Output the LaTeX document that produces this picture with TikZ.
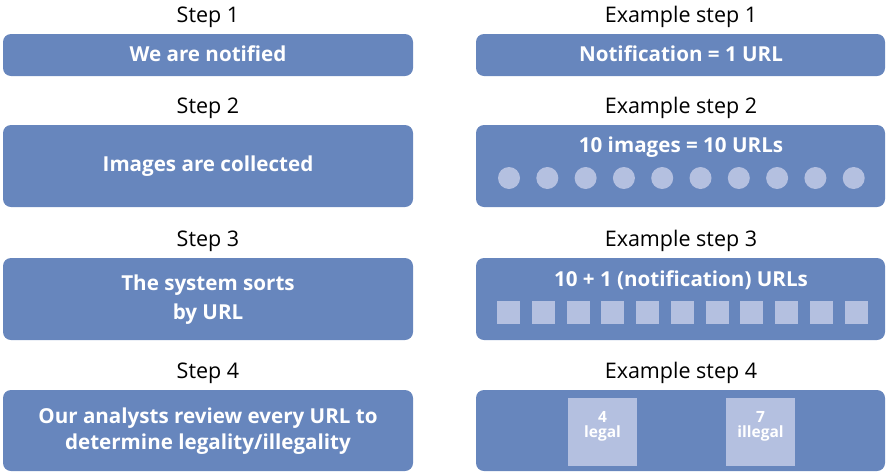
\documentclass[tikz,border=0pt]{standalone}
\usepackage{fontspec}
\setmainfont{Open Sans}
\definecolor{boxblue}{HTML}{6786BD}
\definecolor{lightblue}{HTML}{B4C0E0}
\tikzset{
  x=1pt,y=-1pt,
  heading/.style={font=\fontsize{21.5}{24}\selectfont, text=black, inner sep=0pt},
  stepbox/.style={fill=boxblue, rounded corners=8pt, draw=none},
  boxtext/.style={font=\bfseries\fontsize{20.6}{29}\selectfont, text=white, align=center, inner sep=0pt},
  dot/.style={circle, fill=lightblue, minimum size=22pt, inner sep=0pt},
  sq/.style={fill=lightblue, minimum size=23pt, inner sep=0pt},
  bigsq/.style={fill=lightblue, minimum width=69pt, minimum height=68pt, inner sep=0pt},
  smalltext/.style={font=\bfseries\fontsize{15.5}{15}\selectfont, text=white, align=center, inner sep=0pt},
}
\begin{document}
\begin{tikzpicture}
\useasboundingbox (0,0) rectangle (886,472);
% headings
\node[heading] (h1) at (208,17) {Step 1};
\node[heading] (h2) at (208,108) {Step 2};
\node[heading] (h3) at (208,241) {Step 3};
\node[heading] (h4) at (208,373) {Step 4};
\node[heading] (e1) at (681,17) {Example step 1};
\node[heading] (e2) at (681,108) {Example step 2};
\node[heading] (e3) at (681,241) {Example step 3};
\node[heading] (e4) at (681,373) {Example step 4};
% left boxes
\draw[stepbox] (3,34) rectangle (413,76);
\draw[stepbox] (3,125) rectangle (413,207);
\draw[stepbox] (3,258) rectangle (413,340);
\draw[stepbox] (3,390) rectangle (413,471);
% right boxes
\draw[stepbox] (476,34) rectangle (885,76);
\draw[stepbox] (476,125) rectangle (885,207);
\draw[stepbox] (476,258) rectangle (885,340);
\draw[stepbox] (476,390) rectangle (885,471);
% left texts
\node[boxtext] (t1) at (208,54) {We are notified};
\node[boxtext] (t2) at (208,166) {Images are collected};
\node[boxtext] (t3) at (208,300) {The system sorts\\by URL};
\node[boxtext] (t4) at (208,431) {Our analysts review every URL to\\[-3pt]determine legality/illegality};
% right texts
\node[boxtext] (r1) at (681,54) {Notification = 1 URL};
\node[boxtext] (r2) at (681,147) {10 images = 10 URLs};
\node[boxtext] (r3) at (681,280) {10 + 1 (notification) URLs};
% dots
\foreach \i in {0,...,9} {
  \node[dot] (d\i) at ({509+\i*38.3},178) {};
}
% squares
\foreach \i in {0,...,10} {
  \node[sq] (s\i) at ({508.5+\i*34.75},312.5) {};
}
% step 4 example
\node[bigsq] (legal) at (602.5,432) {};
\node[bigsq] (illegal) at (760.5,432) {};
\node[smalltext] (lt) at (602.5,426) {4\\legal};
\node[smalltext] (it) at (760.5,426) {7\\illegal};
\end{tikzpicture}
\end{document}
